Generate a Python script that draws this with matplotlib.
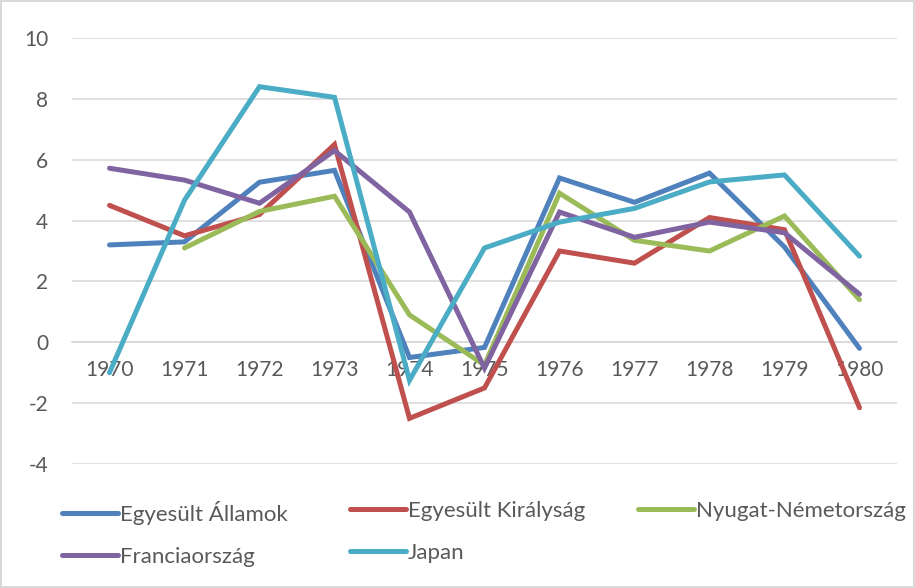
import matplotlib
matplotlib.use("Agg")
import matplotlib.pyplot as plt
from matplotlib.lines import Line2D

years = ["1970", "1971", "1972", "1973", "1974", "1975",
         "1976", "1977", "1978", "1979", "1980"]

usa = [3.2, 3.3, 5.26, 5.65, -0.5, -0.17, 5.4, 4.6, 5.56, 3.13, -0.2]
uk = [4.5, 3.5, 4.2, 6.5, -2.5, -1.5, 3.0, 2.6, 4.1, 3.7, -2.15]
west_germany = [None, 3.1, 4.3, 4.8, 0.9, -0.75, 4.9, 3.35, 3.0, 4.15, 1.4]
france = [5.72, 5.33, 4.57, 6.3, 4.28, -0.85, 4.28, 3.45, 3.95, 3.6, 1.58]
japan = [-1.0, 4.67, 8.4, 8.05, -1.25, 3.1, 3.95, 4.4, 5.27, 5.5, 2.83]

names = ["Egyesült Államok", "Egyesült Királyság", "Nyugat-Németország",
         "Franciaország", "Japan"]
colors = ["#4F81BD", "#C0504D", "#9BBB59", "#8064A2", "#4BACC6"]
series = [usa, uk, west_germany, france, japan]

plt.rcParams["font.family"] = ["Lato", "DejaVu Sans"]
plt.rcParams["axes.unicode_minus"] = False

fig = plt.figure(figsize=(9.15, 5.88), dpi=100)
fig.patch.set_edgecolor("#D9D9D9")
fig.patch.set_linewidth(1.5)
ax = fig.add_axes([72 / 915, 1 - 464 / 588, 825 / 915, 426 / 588])

x = list(range(len(years)))
for vals, c, n in zip(series, colors, names):
    xs = [xi for xi, v in zip(x, vals) if v is not None]
    ys = [v for v in vals if v is not None]
    ax.plot(xs, ys, color=c, lw=3.6, label=n, zorder=3,
            solid_joinstyle="miter", solid_capstyle="round")

ax.set_xlim(-0.5, len(years) - 0.5)
ax.set_ylim(-4, 10)
ax.set_yticks(range(-4, 11, 2))
ax.set_xticks(x)
ax.set_xticklabels(years)
ax.grid(axis="y", color="#D9D9D9", lw=1.2)
ax.set_axisbelow(True)
for s in ["top", "right", "left"]:
    ax.spines[s].set_visible(False)
ax.spines["bottom"].set_position(("data", 0))
ax.spines["bottom"].set_color("#D9D9D9")
ax.spines["bottom"].set_linewidth(1.2)
ax.tick_params(axis="y", length=0, pad=17, labelsize=15, labelcolor="#595959")
ax.tick_params(axis="x", length=0, pad=13, labelsize=15, labelcolor="#595959")

# three single-column legends so the columns line up like the original
col_x = [62, 350, 638]
rows = [[0, 3], [1, 4], [2]]
for cx, idx in zip(col_x, rows):
    handles = [Line2D([], [], color=colors[i], lw=3.6, solid_capstyle="round")
               for i in idx]
    fig.legend(handles, [names[i] for i in idx], loc="upper left",
               bbox_to_anchor=(cx / 915, 1 - 501 / 588), frameon=False,
               borderpad=0, borderaxespad=0, handlelength=2.5,
               handletextpad=0.12, labelspacing=1.0, fontsize=16,
               labelcolor="#595959")

fig.savefig("out.png", dpi=100)
